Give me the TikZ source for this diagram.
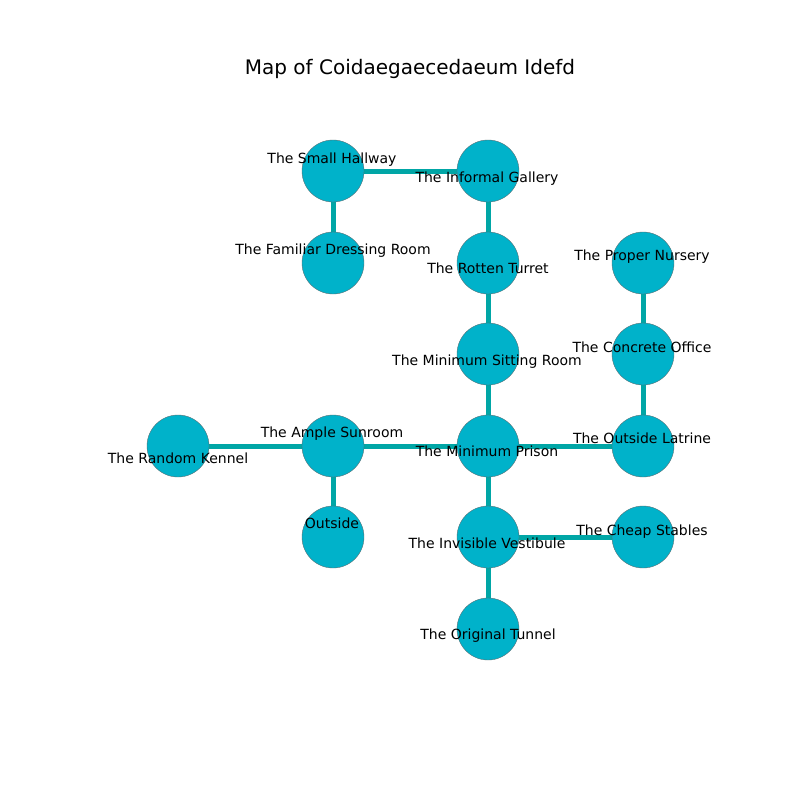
\documentclass[tikz,border=0pt]{standalone}
\usepackage{fontspec}
\setmainfont{DejaVu Sans}
\definecolor{nodefill}{RGB}{0,178,202}
\definecolor{edgecol}{RGB}{0,166,166}
\definecolor{nodeedge}{RGB}{90,110,115}
\tikzset{
  room/.style={circle, fill=nodefill, draw=nodeedge, line width=0.4pt, minimum size=62pt, inner sep=0pt},
  link/.style={draw=edgecol, line width=5pt},
  lbl/.style={font=\fontsize{14pt}{16pt}\selectfont, inner sep=0pt, text=black, text height=10.6pt, text depth=0pt},
}
\begin{document}
\begin{tikzpicture}[x=1pt,y=-1pt]
\useasboundingbox (0,0) rectangle (800,800);
\node[font=\fontsize{20pt}{24pt}\selectfont] (title) at (410,69) {Map of Coidaegaecedaeum Idefd};
% nodes
\coordinate (SH) at (333,171);
\coordinate (IG) at (488,171);
\coordinate (FD) at (333,263);
\coordinate (RT) at (488,263);
\coordinate (PN) at (643,263);
\coordinate (MS) at (488,354);
\coordinate (CO) at (643,354);
\coordinate (RK) at (178,446);
\coordinate (AS) at (333,446);
\coordinate (MP) at (488,446);
\coordinate (OL) at (643,446);
\coordinate (OU) at (333,537);
\coordinate (IV) at (488,537);
\coordinate (CS) at (643,537);
\coordinate (OT) at (488,629);
% edges
\draw[link] (SH) -- (IG);
\draw[link] (SH) -- (FD);
\draw[link] (IG) -- (RT);
\draw[link] (RT) -- (MS);
\draw[link] (PN) -- (CO);
\draw[link] (CO) -- (OL);
\draw[link] (MS) -- (MP);
\draw[link] (RK) -- (AS);
\draw[link] (AS) -- (MP);
\draw[link] (MP) -- (OL);
\draw[link] (AS) -- (OU);
\draw[link] (MP) -- (IV);
\draw[link] (IV) -- (CS);
\draw[link] (IV) -- (OT);
% circles
\foreach \n in {SH,IG,FD,RT,PN,MS,CO,RK,AS,MP,OL,OU,IV,CS,OT}
  \node[room] (c\n) at (\n) {};
% labels
\node[lbl] (lSH) at (332,158) {The Small Hallway};
\node[lbl] (lIG) at (487,177) {The Informal Gallery};
\node[lbl] (lFD) at (333,249) {The Familiar Dressing Room};
\node[lbl] (lRT) at (488,268) {The Rotten Turret};
\node[lbl] (lPN) at (642,255) {The Proper Nursery};
\node[lbl] (lMS) at (487,360) {The Minimum Sitting Room};
\node[lbl] (lCO) at (642,347) {The Concrete Office};
\node[lbl] (lRK) at (178,458) {The Random Kennel};
\node[lbl] (lAS) at (332,432) {The Ample Sunroom};
\node[lbl] (lMP) at (487,451) {The Minimum Prison};
\node[lbl] (lOL) at (642,438) {The Outside Latrine};
\node[lbl] (lOU) at (332,523) {Outside};
\node[lbl] (lIV) at (487,543) {The Invisible Vestibule};
\node[lbl] (lCS) at (642,530) {The Cheap Stables};
\node[lbl] (lOT) at (488,634) {The Original Tunnel};
\end{tikzpicture}
\end{document}
